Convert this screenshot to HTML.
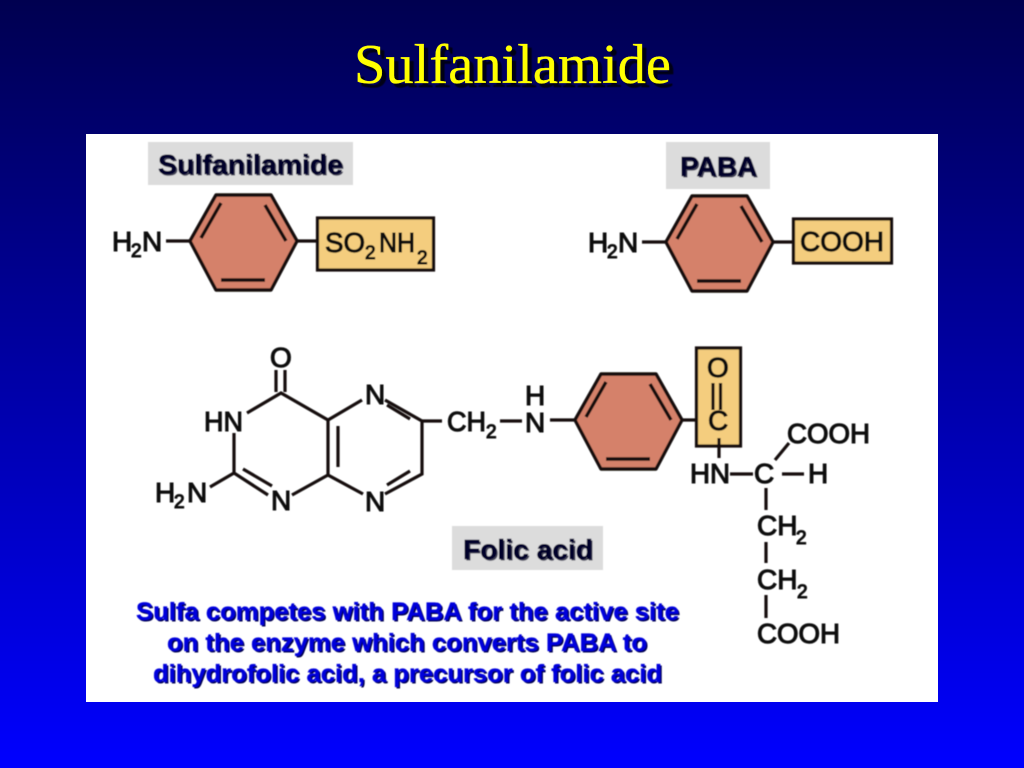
<!DOCTYPE html>
<html>
<head>
<meta charset="utf-8">
<title>Sulfanilamide</title>
<style>
html,body{margin:0;padding:0;width:1024px;height:768px;overflow:hidden;background:#00f}
svg{display:block}
</style>
</head>
<body>
<svg xmlns="http://www.w3.org/2000/svg" width="1024" height="768" viewBox="0 0 1024 768">
<defs>
<linearGradient id="bg" x1="0" y1="0" x2="0" y2="1">
<stop offset="0" stop-color="#000050"/>
<stop offset="1" stop-color="#0000ff"/>
</linearGradient>
<filter id="soft" x="-5%" y="-5%" width="110%" height="110%"><feGaussianBlur stdDeviation="0.5"/></filter>
<filter id="sh" x="-5%" y="-20%" width="110%" height="140%"><feGaussianBlur stdDeviation="0.6"/></filter>
<g id="ring">
<polygon points="0,0 26,-46 81,-46 107,0 81,49 26,49" fill="#d5816a" stroke="#120e0c" stroke-width="3.4" stroke-linejoin="round"/>
<path d="M31,-38 L11,-3 M75,-36 L96,0 M31,39 H75" fill="none" stroke="#120e0c" stroke-width="3.4"/>
</g>
</defs>

<rect width="1024" height="768" fill="url(#bg)"/>

<text x="358" y="87" font-family="'Liberation Serif',serif" font-size="56.500" fill="#000012" stroke="#000012" stroke-width="0.6" textLength="317" lengthAdjust="spacingAndGlyphs" filter="url(#sh)">Sulfanilamide</text>
<text x="354" y="83" font-family="'Liberation Serif',serif" font-size="56.500" fill="#ffff00" stroke="#ffff00" stroke-width="0.3" textLength="317" lengthAdjust="spacingAndGlyphs">Sulfanilamide</text>

<rect x="86" y="134" width="852" height="568" fill="#ffffff"/>

<g filter="url(#soft)">
<rect x="148" y="142" width="205" height="43" fill="#dcdcdc"/>
<rect x="666" y="142" width="104" height="47" fill="#dcdcdc"/>
<rect x="452" y="526" width="151" height="44" fill="#dcdcdc"/>

<g font-family="'Liberation Sans',sans-serif" font-size="28" font-weight="bold">
<g fill="#44445a" transform="translate(1.5,1.5)">
<text x="158" y="174" textLength="185" lengthAdjust="spacingAndGlyphs">Sulfanilamide</text>
<text x="680" y="176" textLength="77" lengthAdjust="spacingAndGlyphs">PABA</text>
<text x="463" y="559" textLength="130" lengthAdjust="spacingAndGlyphs">Folic acid</text>
</g>
<g fill="#00002a" stroke="#00002a" stroke-width="0.5">
<text x="158" y="174" textLength="185" lengthAdjust="spacingAndGlyphs">Sulfanilamide</text>
<text x="680" y="176" textLength="77" lengthAdjust="spacingAndGlyphs">PABA</text>
<text x="463" y="559" textLength="130" lengthAdjust="spacingAndGlyphs">Folic acid</text>
</g>
</g>

<g font-family="'Liberation Sans',sans-serif" font-size="25" font-weight="bold">
<g fill="#000050" transform="translate(1.5,1.5)">
<text x="136" y="620" textLength="543" lengthAdjust="spacingAndGlyphs">Sulfa competes with PABA for the active site</text>
<text x="167" y="651" textLength="480" lengthAdjust="spacingAndGlyphs">on the enzyme which converts PABA to</text>
<text x="153" y="682" textLength="509" lengthAdjust="spacingAndGlyphs">dihydrofolic acid, a precursor of folic acid</text>
</g>
<g fill="#0000dc" stroke="#0000dc" stroke-width="0.3">
<text x="136" y="620" textLength="543" lengthAdjust="spacingAndGlyphs">Sulfa competes with PABA for the active site</text>
<text x="167" y="651" textLength="480" lengthAdjust="spacingAndGlyphs">on the enzyme which converts PABA to</text>
<text x="153" y="682" textLength="509" lengthAdjust="spacingAndGlyphs">dihydrofolic acid, a precursor of folic acid</text>
</g>
</g>

<!-- boxes and rings -->
<rect x="317.500" y="218" width="116" height="52" fill="#f4cd7e" stroke="#120e0c" stroke-width="3.2"/>
<rect x="793.500" y="219" width="98" height="44" fill="#f4cd7e" stroke="#120e0c" stroke-width="3.2"/>
<rect x="696.500" y="348" width="44" height="98" fill="#f4cd7e" stroke="#120e0c" stroke-width="3.2"/>
<use href="#ring" x="190" y="241"/>
<use href="#ring" x="666" y="242"/>
<use href="#ring" x="575" y="420"/>

<!-- bonds -->
<g fill="none" stroke="#120e0c" stroke-width="3.2">
<path d="M166,241 H190 M297,241 H317 M642,242 H666 M773,242 H793"/>
<path d="M276,370 V392 M285,370 V392"/>
<path d="M247,413 L281,393 L328,420 L362,400"/>
<path d="M385,400 L422,421 H442 M387,405 L410,419"/>
<path d="M422,421 V474 L385,494 M410,471 L387,485"/>
<path d="M363,494 L328,475 V420 M338,426 V467"/>
<path d="M328,475 L292,495"/>
<path d="M268,495 L234,473 V433 M272,486 L243,469 M234,473 L210,487"/>
<path d="M500,421 H522 M550,420 H575 M682,420 H696"/>
<path d="M713,383 V410 M720.500,383 V410"/>
<path d="M719,438 V458"/>
<path d="M730,474 H753 M782,474 H804 M775,460 L789,443"/>
<path d="M766,488 V510 M766,542 V563 M766,595 V618"/>
</g>

<!-- atom labels -->
<g font-family="'Liberation Sans',sans-serif" font-size="28" fill="#0c0c0c" stroke="#0c0c0c" stroke-width="1.1">
<text x="112" y="251">H</text><text x="131" y="257" font-size="19">2</text><text x="142" y="251">N</text>
<text x="325" y="252" textLength="40" lengthAdjust="spacingAndGlyphs">SO</text><text x="365" y="259" font-size="19">2</text><text x="379" y="252" textLength="36" lengthAdjust="spacingAndGlyphs">NH</text><text x="417" y="264" font-size="19">2</text>
<text x="588" y="252">H</text><text x="607" y="258" font-size="19">2</text><text x="618" y="252">N</text>
<text x="800" y="251" textLength="84" lengthAdjust="spacingAndGlyphs">COOH</text>

<text x="270" y="367">O</text>
<text x="204" y="431" textLength="39" lengthAdjust="spacingAndGlyphs">HN</text>
<text x="155" y="502">H</text><text x="174" y="508" font-size="19">2</text><text x="187" y="502">N</text>
<text x="271" y="510">N</text>
<text x="365" y="404">N</text>
<text x="365" y="511">N</text>
<text x="447" y="431" textLength="39" lengthAdjust="spacingAndGlyphs">CH</text><text x="486" y="438" font-size="19">2</text>
<text x="525" y="405">H</text>
<text x="525" y="432">N</text>

<text x="707" y="377">O</text>
<text x="708" y="430">C</text>
<text x="690" y="483" textLength="40" lengthAdjust="spacingAndGlyphs">HN</text>
<text x="754" y="483">C</text>
<text x="808" y="483">H</text>
<text x="787" y="443" textLength="83" lengthAdjust="spacingAndGlyphs">COOH</text>
<text x="757" y="535">CH</text><text x="796" y="544" font-size="19">2</text>
<text x="757" y="589">CH</text><text x="797" y="598" font-size="19">2</text>
<text x="757" y="643" textLength="83" lengthAdjust="spacingAndGlyphs">COOH</text>
</g>
</g>
</svg>
</body>
</html>
